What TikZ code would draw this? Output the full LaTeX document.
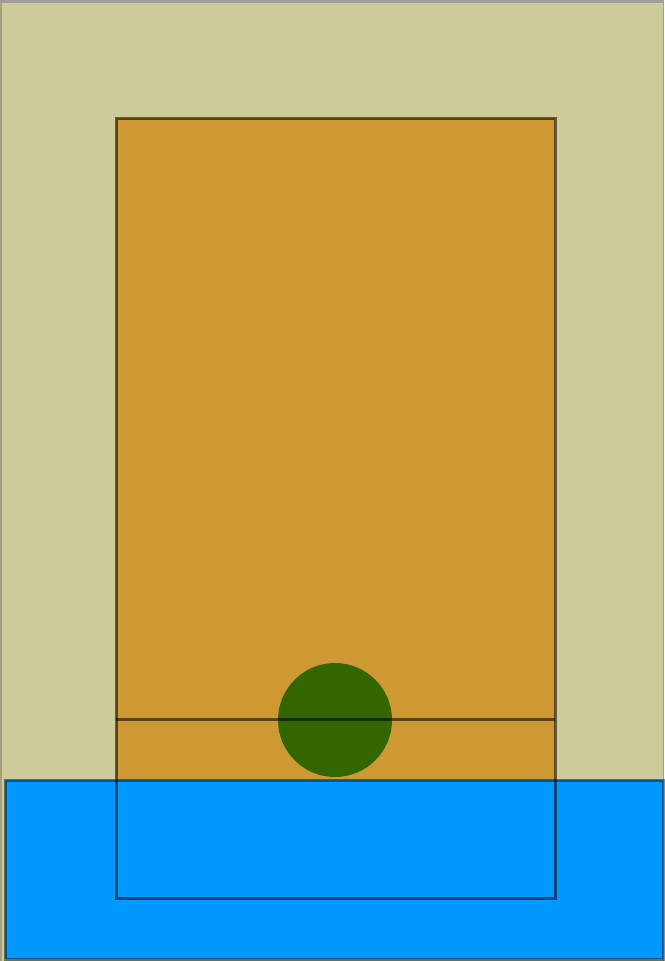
\documentclass[tikz,border=0pt]{standalone}
\begin{document}
\begin{tikzpicture}[x=1pt,y=-1pt,
  edge/.style={draw=black,draw opacity=0.55,line width=3pt},
  bedge/.style={draw=black,draw opacity=0.45,line width=3pt}]
\definecolor{khaki}{HTML}{CDCB99}
\definecolor{grayb}{HTML}{9E9E9E}
\definecolor{orng}{HTML}{CE9833}
\definecolor{grn}{HTML}{336600}
\definecolor{sky}{HTML}{0099FF}
\useasboundingbox (0,0) rectangle (664,961);
\fill[grayb] (0,0) rectangle (664,961);
\fill[khaki!80!black] (0,3) rectangle (3,961);
\fill[khaki] (2,3) rectangle (663,961);
\fill[orng] (116,118) rectangle (555,898);
\node[circle,fill=grn,minimum size=114pt,inner sep=0pt] (ball) at (335,720) {};
\coordinate (hl) at (116,719);
\coordinate (hr) at (555,719);
\draw[edge] (hl) -- (hr);
\path[fill=sky,bedge] (5,780) rectangle (663,959);
\coordinate (otl) at (116,118);
\coordinate (obr) at (555,898);
\draw[edge] (otl) rectangle (obr);
\end{tikzpicture}
\end{document}
